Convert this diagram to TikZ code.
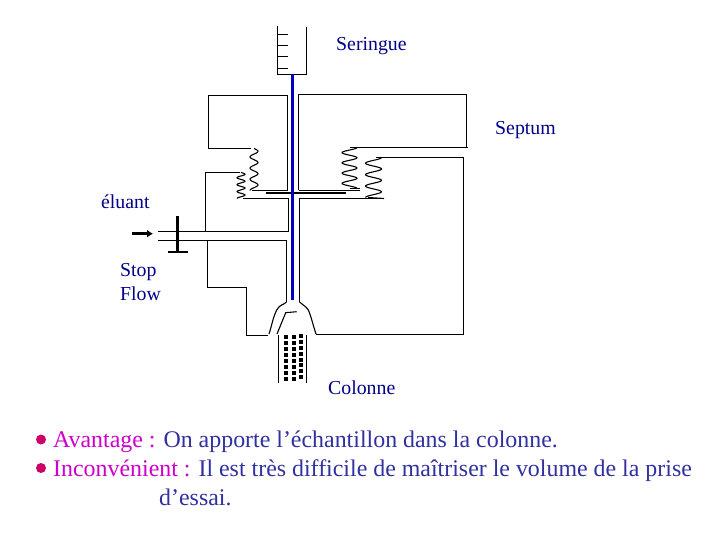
\documentclass[tikz,border=0pt]{standalone}
\usepackage{fontspec}
\usetikzlibrary{arrows.meta}
\setmainfont{Liberation Serif}
\definecolor{navy}{RGB}{0,0,136}
\definecolor{needle}{RGB}{0,0,190}
\definecolor{bodyblue}{RGB}{48,48,160}
\definecolor{accent}{RGB}{204,0,204}
\definecolor{bulletc}{RGB}{204,0,102}
\tikzset{
  wall/.style={draw=black,line width=1.1pt},
  thickbar/.style={draw=black,line width=2.9pt},
  labeltext/.style={text=navy,font=\fontsize{19.8}{24}\selectfont,inner sep=0pt,anchor=base west},
  bodytext/.style={text=bodyblue,font=\fontsize{23.9}{28}\selectfont,inner sep=0pt,anchor=base west},
  dot/.style={fill=black,draw=none,minimum size=4pt,inner sep=0pt,rectangle},
  spring/.style={draw=black,line width=1.1pt,smooth,samples=70}
}
\begin{document}
\begin{tikzpicture}[x=1pt,y=-1pt,line join=miter]
\useasboundingbox (0,0) rectangle (720,540);
% syringe
\draw[wall] (277.5,26) -- (277.5,74.5);
\draw[wall] (276.5,74.5) -- (306.5,74.5) -- (306.5,27);
\foreach \yy/\xa in {34.5/277.5,45.5/276.5,56.5/276.5,68.5/276.5}{\draw[wall] (\xa,\yy) -- (287.5,\yy);}
% upper blocks
\draw[wall] (287.5,190.5) -- (287.5,95.5) -- (208.5,95.5) -- (208.5,148.5) -- (251,148.5);
\draw[wall] (298.5,190.5) -- (298.5,94.5) -- (466.5,94.5) -- (466.5,147.5) (468,147.5) -- (350,147.5);
\draw[wall] (376,157.5) -- (463.5,157.5) -- (463.5,334.5) -- (316,334.5);
% left lower block
\draw[wall] (240,172.5) -- (205.5,172.5) -- (205.5,231.5);
\draw[wall] (207.5,240.5) -- (207.5,287.5) -- (246.5,287.5) -- (246.5,335.5) -- (267.5,335.5);
% cross channels
\draw[wall] (252,190.5) -- (287.5,190.5);
\draw[wall] (298.5,190.5) -- (360,190.5);
\draw[wall] (243,198.5) -- (288.5,198.5) -- (288.5,231.5);
\draw[wall] (384,198.5) -- (299.5,198.5) -- (299.5,302);
\draw[wall] (158,231.5) -- (288.5,231.5);
\draw[wall] (158,240.5) -- (286.5,240.5) -- (286.5,302);
% column head
\draw[wall] (286.5,302) .. controls (284,305) and (280,304) .. (276.7,310) .. controls (273,317) and (272,325) .. (269,334);
\draw[wall] (299.5,302) .. controls (302,305) and (305,305) .. (308.3,310) .. controls (311,316) and (313,325) .. (316,334);
\draw[wall] (296.7,311.7) -- (285.7,312.7) -- (277,334);
\draw[wall] (278.5,335) -- (278.5,382.7);
\draw[wall] (306.5,335) -- (306.5,382.7);
% packing
\foreach \xx/\d in {286/0,294/0,301/-1.3}{
  \foreach \i in {0,...,7}{\node[dot] at (\xx,337+5.95*\i+\d) {};}}
% septum and stop flow
\draw[thickbar] (266,193) -- (346,193);
\draw[draw=black,line width=2.4pt] (177.5,216) -- (177.5,252);
\draw[thickbar] (173,252) -- (188,252);
\draw[wall] (168,252) -- (173,252);
\draw[-{Latex[length=6pt,width=8pt]},line width=3.2pt,black] (132,233.7) -- (153,233.7);
% needle
\draw[draw=needle,line width=3.4pt] (292.4,74) -- (292.4,300);
% springs
\draw[spring,domain=0:1] plot ({254+4*sin(360*3.75*\x)},{148.5+42*\x});
\draw[spring,domain=0:1] plot ({241+4*sin(360*3.75*\x)},{172.5+26*\x});
\draw[spring,domain=0:1] plot ({349.5+7.5*sin(360*4*\x+90)},{147.5+41*\x});
\draw[wall] (349.5,188.5) -- (360,188.5);
\draw[spring,domain=0:1] plot ({373.5+8*sin(360*3.5*\x+90)},{157.5+40*\x});
\draw[wall] (368,197.5) -- (384,198.5);
% labels
\node[labeltext] (seringue) at (336,51) {Seringue};
\node[labeltext] (septum) at (495,135) {Septum};
\node[labeltext] (eluant) at (101,209) {éluant};
\node[labeltext] (stop) at (120,276) {Stop};
\node[labeltext] (flow) at (120,300) {Flow};
\node[labeltext] (colonne) at (328,394) {Colonne};
% bullet text
\fill[bulletc] (41,439.5) circle (5pt);
\fill[bulletc] (41,468) circle (5pt);
\node[bodytext] (l1) at (53,447) {\textcolor{accent}{Avantage :} On apporte l’échantillon dans la colonne.};
\node[bodytext] (l2) at (53,476) {\textcolor{accent}{Inconvénient :} Il est très difficile de maîtriser le volume de la prise};
\node[bodytext] (l3) at (159,505) {d’essai.};
\end{tikzpicture}
\end{document}
